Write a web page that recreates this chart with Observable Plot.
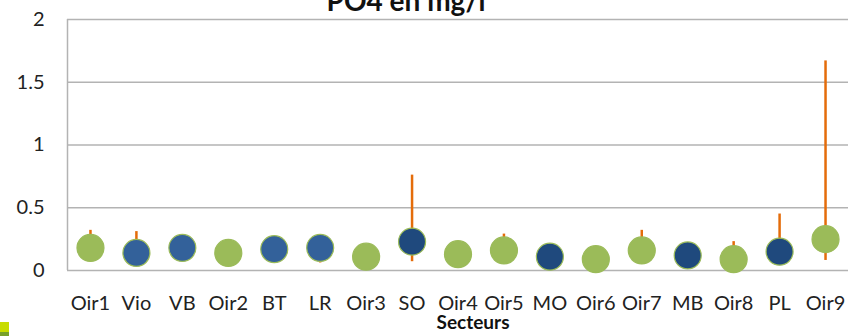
<!DOCTYPE html>
<html>
<head>
<meta charset="utf-8">
<script src="https://cdn.jsdelivr.net/npm/d3@7"></script>
<script src="https://cdn.jsdelivr.net/npm/@observablehq/plot@0.6"></script>
<style>
  html, body { margin: 0; padding: 0; background: #fff; }
  #wrap { position: relative; width: 848px; height: 336px; overflow: hidden; }
  #deco1 { position: absolute; left: 0; top: 322px; width: 9px; height: 10px; background: #c8dc00; }
  #deco2 { position: absolute; left: 0; top: 332px; width: 9px; height: 4px; background: #77a02a; }
</style>
</head>
<body>
<div id="wrap"><div id="chart"></div><div id="deco1"></div><div id="deco2"></div></div>
<script>
const categories = ["Oir1","Vio","VB","Oir2","BT","LR","Oir3","SO","Oir4","Oir5","MO","Oir6","Oir7","MB","Oir8","PL","Oir9"];
const means = [0.18,0.14,0.18,0.14,0.17,0.18,0.11,0.23,0.13,0.16,0.11,0.09,0.16,0.12,0.09,0.15,0.25];
const maxs  = [0.32,0.31,0.18,0.14,0.17,0.18,0.11,0.76,0.13,0.29,0.11,0.09,0.32,0.12,0.23,0.45,1.67];
const mins  = [0.18,0.14,0.18,0.14,0.06,0.06,0.11,0.07,0.13,0.16,0.11,0.09,0.16,0.12,0.09,0.15,0.08];
const groups = ["oir","aff1","aff1","oir","aff1","aff1","oir","aff2","oir","oir","aff2","oir","oir","aff2","oir","aff2","oir"];
const yTicks = [0, 0.5, 1, 1.5, 2];
const title = "PO4 en mg/l";
const xTitle = "Secteurs";

const data = categories.map((c, i) => ({cat: c, mean: means[i], max: maxs[i], min: mins[i], group: groups[i]}));

const W = 848, ML = 67, MR = 0;
const bw = (W - ML - MR) / categories.length;

const chart = Plot.plot({
  width: W,
  height: 336,
  marginTop: 19,
  marginBottom: 66,
  marginLeft: ML,
  marginRight: MR,
  style: {fontFamily: "Lato, sans-serif", fontSize: "20px", color: "#222", background: "#fff"},
  x: {type: "band", domain: categories, padding: 0, round: false, label: null},
  y: {domain: [0, 2], label: null},
  color: {domain: ["oir","aff1","aff2"], range: ["#9bbb59","#33619a","#1f497d"]},
  marks: [
    Plot.gridY(yTicks, {stroke: "#b3b3b3", strokeOpacity: 1, strokeWidth: 1.5}),
    Plot.ruleX([categories[0]], {x: d => d, dx: -bw / 2, stroke: "#b3b3b3", strokeWidth: 1.5}),
    Plot.axisY(yTicks, {tickSize: 0, tickPadding: 23, tickFormat: d => String(d), fill: "#222", fontSize: 20}),
    Plot.axisX({tickSize: 0, tickPadding: 25, fill: "#222", fontSize: 20}),
    Plot.ruleX(data, {x: "cat", y1: "min", y2: "max", stroke: "#e46c0a", strokeWidth: 2.5}),
    Plot.dot(data, {x: "cat", y: "mean", r: 13.5, fill: "group", stroke: "#9bbb59", strokeWidth: 1.2}),
    Plot.text([xTitle], {frameAnchor: "bottom", dy: 58, dx: 15, fontWeight: "bold", fontSize: 19, fill: "#111"}),
    Plot.text([title], {frameAnchor: "top", dy: -28, dx: -52, fontWeight: "bold", fontSize: 28, fill: "#111"})
  ]
});
document.getElementById("chart").appendChild(chart);
</script>
</body>
</html>
